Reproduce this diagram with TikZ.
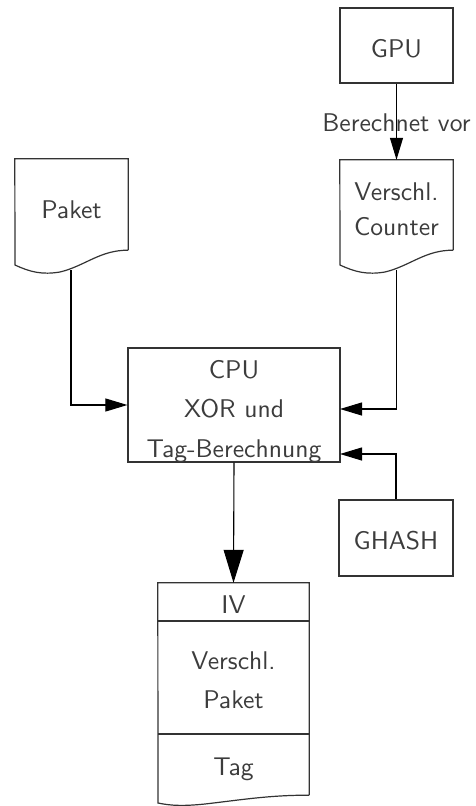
\documentclass[tikz,border=0pt]{standalone}
\usepackage{fontspec}
\setsansfont{lmsans10-regular.otf}
\usetikzlibrary{arrows.meta}
\definecolor{inkline}{HTML}{333333}
\definecolor{inktext}{HTML}{3C3C3C}
\tikzset{
  outline/.style={draw=inkline, line width=1.2pt, line join=miter},
  boxnode/.style={outline, rectangle, inner sep=0pt, minimum width=#1},
  docframe/.style={rectangle, inner sep=0pt, minimum width=#1},
  lbl/.style={anchor=base, inner sep=0pt, text=inktext},
  conn/.style={draw=black, line width=1.1pt, -{Triangle[length=22pt,width=13pt]}},
  bigconn/.style={draw=black, line width=1.1pt, -{Triangle[length=33pt,width=20pt]}},
}
\begin{document}
\begin{tikzpicture}[x=1pt, y=-1pt, font=\fontsize{25.6}{30}\selectfont\sffamily]
\useasboundingbox (0,0) rectangle (475,806);

% --- plain boxes ---
\node[boxnode=113pt, minimum height=75pt] (gpu) at (396.5,45.5) {};
\node[lbl] (gputxt) at (396.5,57) {GPU};

\node[boxnode=212pt, minimum height=114pt] (cpu) at (234,405) {};
\node[lbl] (cpuA) at (234,378) {CPU};
\node[lbl] (cpuB) at (234,417) {XOR und};
\node[lbl] (cpuC) at (234,457) {Tag-Berechnung};

\node[boxnode=114pt, minimum height=76pt] (ghash) at (396,538) {};
\node[lbl] (ghashtxt) at (396,549) {GHASH};

% --- document shapes (wavy lower edge) ---
\node[docframe=113pt, minimum height=91pt] (paket) at (71.5,204.5) {};
\draw[outline] (paket.south east) -- (paket.north east) -- (paket.north west) -- (15,265)
  .. controls (30,272) and (42,275) .. (60,272)
  .. controls (85,266) and (100,250) .. (paket.south east);
\node[lbl] (pakettxt) at (71.5,218) {Paket};

\node[docframe=113pt, minimum height=90pt] (counter) at (396.5,205) {};
\draw[outline] (counter.south east) -- (counter.north east) -- (counter.north west) -- (340,265)
  .. controls (355,272) and (367,275) .. (385,272)
  .. controls (410,266) and (425,250) .. (counter.south east);
\node[lbl] (counterA) at (396.5,200) {Verschl.};
\node[lbl] (counterB) at (396.5,235) {Counter};

\node[docframe=151pt, minimum height=212pt] (out) at (233.5,689) {};
\draw[outline] (out.south east) -- (out.north east) -- (out.north west) -- (158,803)
  .. controls (172,806) and (185,806) .. (205,804)
  .. controls (240,800) and (270,795) .. (out.south east);
\draw[outline] (158,621) -- (309,621);
\draw[outline] (158,734) -- (309,734);
\node[lbl] (ivtxt) at (233.5,613) {IV};
\node[lbl] (outA) at (233.5,669) {Verschl.};
\node[lbl] (outB) at (233.5,708) {Paket};
\node[lbl] (tagtxt) at (233.5,775) {Tag};

% --- connector end points ---
\coordinate (paketout) at (71,270);
\coordinate (counterout) at (396.5,270);
\coordinate (cpuinA) at (340,409);
\coordinate (cpuinB) at (340,454);

% --- connectors ---
\draw[conn] (gpu.south) -- (counter.north)
  node[pos=0.623, lbl, text=inktext] (vorlbl) {Berechnet vor};
\draw[conn] (paketout) |- (cpu.west);
\draw[conn] (counterout) |- (cpuinA);
\draw[conn] (ghash.north) |- (cpuinB);
\draw[bigconn] (cpu.south) -- (out.north);
\end{tikzpicture}
\end{document}
